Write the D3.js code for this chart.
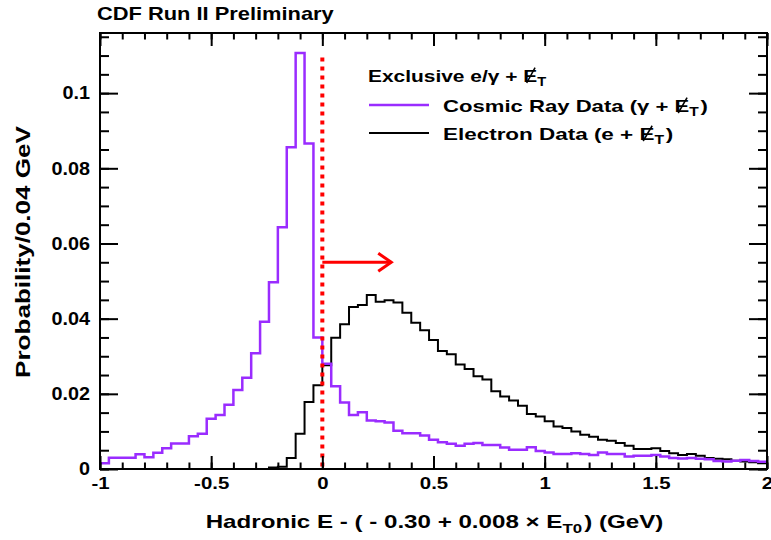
<!DOCTYPE html>
<html><head><meta charset="utf-8">
<script src="https://cdn.jsdelivr.net/npm/d3@7/dist/d3.min.js"></script>
<style>
body{margin:0;background:#fff}
svg text{font-family:"Liberation Sans",Arial,Helvetica,sans-serif;font-weight:bold;fill:#000}
</style>
</head><body>
<svg id="c" width="771" height="540"></svg>
<script>
// ---- data ----
const binStart = -1, binWidth = 0.04;
const cosmic = [
 0.0015,0.0030,0.0030,0.0030,0.0039,0.0031,0.0043,0.0055,0.0068,0.0068,
 0.0087,0.0094,0.0134,0.0144,0.0171,0.0210,0.0243,0.0308,0.0392,0.0497,
 0.0643,0.0856,0.1107,0.0866,0.0350,0.0280,0.0220,0.0177,0.0144,0.0151,
 0.0129,0.0127,0.0124,0.0102,0.0095,0.0095,0.0089,0.0078,0.0071,0.0067,
 0.0062,0.0067,0.0069,0.0064,0.0064,0.0057,0.0051,0.0051,0.0058,0.0048,
 0.0044,0.0040,0.0040,0.0042,0.0040,0.0037,0.0044,0.0040,0.0040,0.0033,
 0.0035,0.0035,0.0037,0.0033,0.0029,0.0028,0.0029,0.0027,0.0026,0.0021,
 0.0020,0.0022,0.0024,0.0021,0.0019
];
const electron = [
 0,0,0,0,0,0,0,0,0,0,
 0,0,0,0,0,0,0,0,0,0.0004,
 0.0006,0.0029,0.0094,0.0178,0.0223,0.0276,0.0349,0.0385,0.0431,0.0436,
 0.0463,0.0445,0.0449,0.0443,0.0416,0.0389,0.0369,0.0343,0.0314,0.0305,
 0.0278,0.0266,0.0247,0.0238,0.0207,0.0193,0.0182,0.0168,0.0146,0.0140,
 0.0127,0.0113,0.0109,0.0100,0.0091,0.0086,0.0078,0.0075,0.0069,0.0062,
 0.0053,0.0053,0.0055,0.0048,0.0042,0.0037,0.0040,0.0035,0.0029,0.0027,
 0.0026,0.0022,0.0020,0.0018,0.0015
];
const xTicks = [-1,-0.5,0,0.5,1,1.5,2];
const xTickLabels = ["-1","-0.5","0","0.5","1","1.5","2"];
const yTicks = [0,0.02,0.04,0.06,0.08,0.1];
const yTickLabels = ["0","0.02","0.04","0.06","0.08","0.1"];
const cutValue = 0;
const arrowEnd = 0.31;
const arrowLevel = 0.055;

// ---- layout ----
const L = 100, R = 767, T = 33, B = 469;
const svg = d3.select("#c");
const x = d3.scaleLinear().domain([-1, 2]).range([L, R]);
const y = d3.scaleLinear().domain([0, 0.116]).range([B, T]);

const PURPLE = "#9a2cff";

function stretch(sel, k){
  sel.each(function(){
    const len = this.getComputedTextLength();
    d3.select(this).attr("textLength", len*k).attr("lengthAdjust","spacingAndGlyphs");
  });
}

svg.append("clipPath").attr("id","clip").append("rect")
  .attr("x",L).attr("y",T).attr("width",R-L).attr("height",B-T);

function stepPts(vals){
  const p = vals.map((v,i)=>[binStart+i*binWidth, v]);
  p.push([binStart+vals.length*binWidth, vals[vals.length-1]]);
  return p;
}
const line = d3.line().x(d=>x(d[0])).y(d=>y(d[1])).curve(d3.curveStepAfter);
const g = svg.append("g").attr("clip-path","url(#clip)");
g.append("path").attr("d", line(stepPts(electron)))
  .attr("fill","none").attr("stroke","#000").attr("stroke-width",2);
g.append("path").attr("d", line(stepPts(cosmic)))
  .attr("fill","none").attr("stroke",PURPLE).attr("stroke-width",2.5);

// red dotted cut line
svg.append("line").attr("x1",x(cutValue)).attr("x2",x(cutValue))
  .attr("y1",y(0.1095)).attr("y2",B)
  .attr("stroke","#ff0000").attr("stroke-width",4).attr("stroke-dasharray","4,5");
// arrow
const ax0 = x(cutValue), ax1 = x(arrowEnd), ay = y(arrowLevel);
svg.append("line").attr("x1",ax0).attr("x2",ax1).attr("y1",ay).attr("y2",ay)
  .attr("stroke","#ff0000").attr("stroke-width",3);
svg.append("path").attr("d",`M${ax1-13},${ay-9}L${ax1},${ay}L${ax1-13},${ay+9}`)
  .attr("fill","none").attr("stroke","#ff0000").attr("stroke-width",3).attr("stroke-linejoin","miter");

// ---- axes (ticks inside) ----
const xMinor = d3.range(-1, 2.0001, 0.1).map(v=>+v.toFixed(2));
const yMinor = d3.range(0, 0.1161, 0.005).map(v=>+v.toFixed(3));
function styleAxis(sel){
  sel.selectAll(".domain").remove();
  sel.selectAll(".tick line").attr("stroke","#000").attr("stroke-width",2);
}
// bottom
svg.append("g").attr("transform",`translate(0,${B})`)
  .call(d3.axisBottom(x).tickValues(xMinor).tickSize(-6.5).tickFormat("")).call(styleAxis);
const xl = svg.append("g").attr("transform",`translate(0,${B})`)
  .call(d3.axisBottom(x).tickValues(xTicks).tickSize(-13).tickPadding(8)
    .tickFormat((d,i)=>xTickLabels[i])).call(styleAxis)
  .selectAll("text").attr("font-size",17).attr("dy","0.71em").attr("y",8);
stretch(xl, 1.2);
// top
svg.append("g").attr("transform",`translate(0,${T})`)
  .call(d3.axisTop(x).tickValues(xMinor).tickSize(-6.5).tickFormat("")).call(styleAxis);
svg.append("g").attr("transform",`translate(0,${T})`)
  .call(d3.axisTop(x).tickValues(xTicks).tickSize(-13).tickFormat("")).call(styleAxis);
// left
svg.append("g").attr("transform",`translate(${L},0)`)
  .call(d3.axisLeft(y).tickValues(yMinor).tickSize(-9).tickFormat("")).call(styleAxis);
const yl = svg.append("g").attr("transform",`translate(${L},0)`)
  .call(d3.axisLeft(y).tickValues(yTicks).tickSize(-18).tickPadding(10)
    .tickFormat((d,i)=>yTickLabels[i])).call(styleAxis)
  .selectAll("text").attr("font-size",18);
stretch(yl, 1.1);
// right
svg.append("g").attr("transform",`translate(${R},0)`)
  .call(d3.axisRight(y).tickValues(yMinor).tickSize(-9).tickFormat("")).call(styleAxis);
svg.append("g").attr("transform",`translate(${R},0)`)
  .call(d3.axisRight(y).tickValues(yTicks).tickSize(-18).tickFormat("")).call(styleAxis);
// frame
svg.append("rect").attr("x",L).attr("y",T).attr("width",R-L).attr("height",B-T)
  .attr("fill","none").attr("stroke","#000").attr("stroke-width",2);

// ---- rich text helper: segments {t, sub, slash}
function richText(parent, xpos, ypos, size, segs, anchor, k){
  const t = parent.append("text").attr("x",xpos).attr("y",ypos)
    .attr("font-size",size).attr("text-anchor",anchor||"start");
  const slashIdx = [];
  let idx = 0;
  segs.forEach(s=>{
    if(s.sub){
      t.append("tspan").attr("dy",size*0.25).attr("font-size",size*0.7).text(s.t);
      t.append("tspan").attr("dy",-size*0.25).text("\u200A");
      idx += s.t.length + 1;
    } else {
      if(s.slash) slashIdx.push(idx);
      t.append("tspan").text(s.t);
      idx += s.t.length;
    }
  });
  if(k) stretch(t, k);
  const node = t.node();
  slashIdx.forEach(i=>{
    const e = node.getExtentOfChar(i);
    const cy0 = ypos, cy1 = ypos - size*0.78;
    parent.append("line")
      .attr("x1", e.x + e.width*0.25).attr("y1", cy0+1)
      .attr("x2", e.x + e.width*0.85).attr("y2", cy1-1)
      .attr("stroke","#000").attr("stroke-width",size*0.09);
  });
  return t;
}

// title
const title = svg.append("text").attr("x",97).attr("y",20).attr("font-size",19).text("CDF Run II Preliminary");
stretch(title, 1.15);

// axis titles
richText(svg, (L+R)/2 + 1, 528, 19, [
  {t:"Hadronic E - ( - 0.30 + 0.008 \u00D7 E"},{t:"T0",sub:true},{t:") (GeV)"}
], "middle", 1.27);
const ylab = svg.append("text").attr("transform","translate(30,252) rotate(-90)")
  .attr("text-anchor","middle").attr("font-size",21).text("Probability/0.04 GeV");
stretch(ylab, 1.24);

// legend
richText(svg, 368, 82, 17, [
  {t:"Exclusive e/\u03B3 + "},{t:"E",slash:true},{t:"T",sub:true}
], "start", 1.23);
svg.append("line").attr("x1",369).attr("x2",429).attr("y1",105).attr("y2",105)
  .attr("stroke",PURPLE).attr("stroke-width",2.5);
richText(svg, 443, 112, 17, [
  {t:"Cosmic Ray Data (\u03B3 + "},{t:"E",slash:true},{t:"T",sub:true},{t:")"}
], "start", 1.30);
svg.append("line").attr("x1",369).attr("x2",429).attr("y1",133).attr("y2",133)
  .attr("stroke","#000").attr("stroke-width",2);
richText(svg, 443, 140, 17, [
  {t:"Electron Data (e + "},{t:"E",slash:true},{t:"T",sub:true},{t:")"}
], "start", 1.32);
</script>
</body></html>
